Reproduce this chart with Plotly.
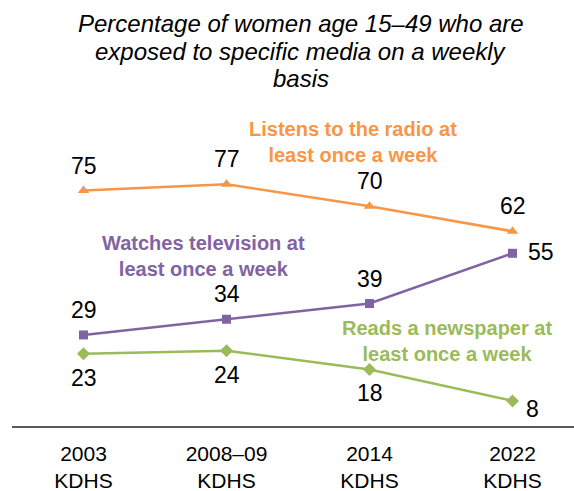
import plotly.graph_objects as go

categories = ["2003<br>KDHS", "2008–09<br>KDHS", "2014<br>KDHS", "2022<br>KDHS"]
radio = [75, 77, 70, 62]
television = [29, 34, 39, 55]
newspaper = [23, 24, 18, 8]
title_lines = ["Percentage of women age 15–49 who are",
               "exposed to specific media on a weekly",
               "basis"]

ORANGE = "#F79646"
PURPLE = "#8064A2"
GREEN = "#9BBB59"
FONT = "Liberation Sans, Arial, sans-serif"

xs = list(range(len(categories)))

fig = go.Figure()
fig.add_trace(go.Scatter(x=xs, y=radio, mode="lines+markers",
                         line=dict(color=ORANGE, width=2.5),
                         marker=dict(symbol="triangle-up", size=10, color=ORANGE)))
fig.add_trace(go.Scatter(x=xs, y=television, mode="lines+markers",
                         line=dict(color=PURPLE, width=2.5),
                         marker=dict(symbol="square", size=9, color=PURPLE)))
fig.add_trace(go.Scatter(x=xs, y=newspaper, mode="lines+markers",
                         line=dict(color=GREEN, width=2.5),
                         marker=dict(symbol="diamond", size=10, color=GREEN)))

ann = []
lab_font = dict(family=FONT, size=23, color="black")
for i, v in enumerate(radio):
    ann.append(dict(x=i, y=v, text=str(v), showarrow=False, yshift=25, font=lab_font))
for i, v in enumerate(television):
    if i == len(television) - 1:
        ann.append(dict(x=i, y=v, text=str(v), showarrow=False, xshift=28, yshift=1, font=lab_font))
    else:
        ann.append(dict(x=i, y=v, text=str(v), showarrow=False, yshift=25, font=lab_font))
for i, v in enumerate(newspaper):
    if i == len(newspaper) - 1:
        ann.append(dict(x=i, y=v, text=str(v), showarrow=False, xshift=20, yshift=-8, font=lab_font))
    else:
        ann.append(dict(x=i, y=v, text=str(v), showarrow=False, yshift=-24, font=lab_font))

ser_font = dict(family=FONT, size=20)
ann.append(dict(x=1.885, y=90.3, text="<b>Listens to the radio at<br>least once a week</b>",
                showarrow=False, font=dict(color=ORANGE, **ser_font)))
ann.append(dict(x=0.836, y=54.1, text="<b>Watches television at<br>least once a week</b>",
                showarrow=False, font=dict(color=PURPLE, **ser_font)))
ann.append(dict(x=2.545, y=27.2, text="<b>Reads a newspaper at<br>least once a week</b>",
                showarrow=False, font=dict(color=GREEN, **ser_font)))

title_y = [1.283, 1.194, 1.108]
for line, ty in zip(title_lines, title_y):
    ann.append(dict(xref="paper", yref="paper", x=0.514, y=ty, text="<i>" + line + "</i>",
                    showarrow=False, xanchor="center", yanchor="middle",
                    font=dict(family=FONT, size=24, color="black")))

fig.update_layout(
    width=574, height=491,
    margin=dict(l=12, r=0, t=112, b=65),
    paper_bgcolor="white", plot_bgcolor="white",
    showlegend=False,
    annotations=ann,
    xaxis=dict(tickmode="array", tickvals=xs, ticktext=categories,
               range=[-0.5, 3.43], showgrid=False, zeroline=False,
               showline=True, linecolor="#595959", linewidth=1.5,
               ticks="", ticklabelstandoff=8,
               tickfont=dict(family=FONT, size=21, color="black")),
    yaxis=dict(range=[0, 100], visible=False, showgrid=False, zeroline=False),
)

fig.write_html("out.html", config={"displayModeBar": False},
               post_script="document.body.style.margin='0px';document.body.style.overflow='hidden';")
